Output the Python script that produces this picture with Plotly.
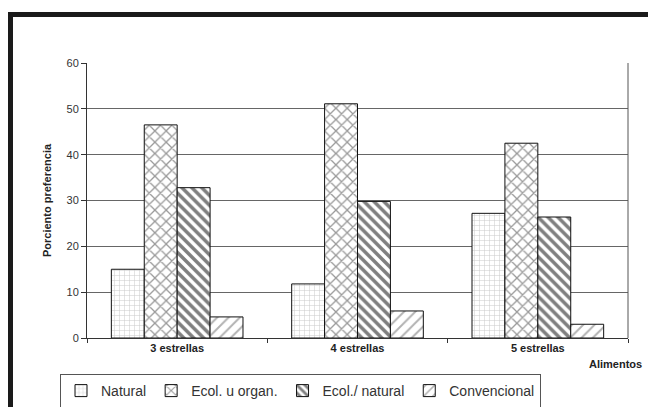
import plotly.graph_objects as go

categories = ["3 estrellas", "4 estrellas", "5 estrellas"]
series_names = ["Natural", "Ecol. u organ.", "Ecol./ natural", "Convencional"]
natural = [15.0, 11.8, 27.2]
ecol_organ = [46.5, 51.1, 42.5]
ecol_natural = [32.8, 29.8, 26.4]
convencional = [4.6, 5.9, 3.0]
y_ticks = [0, 10, 20, 30, 40, 50, 60]

values = [natural, ecol_organ, ecol_natural, convencional]
patterns = [
    dict(shape="+", fgcolor="#999999", bgcolor="white", size=5, solidity=0.2),
    dict(shape="x", fgcolor="#333333", bgcolor="white", size=8, solidity=0.3),
    dict(shape="\\", fgcolor="#000000", bgcolor="white", size=7, solidity=0.5),
    dict(shape="/", fgcolor="#666666", bgcolor="white", size=8, solidity=0.25),
]

fig = go.Figure()
for name, vals, pat in zip(series_names, values, patterns):
    fig.add_trace(go.Bar(
        x=categories, y=vals, name=name,
        marker=dict(color="white", pattern=pat,
                    line=dict(color="#111111", width=1)),
    ))

W, H = 648, 407
L, R, T, B = 87, 20, 63, 69
pw, ph = W - L - R, H - T - B

def px_x(p):
    return (p - L) / pw

def px_y(p):
    return (H - B - p) / ph

narrow = "Liberation Sans Narrow, Arial Narrow, sans-serif"

fig.update_layout(
    width=W, height=H,
    margin=dict(l=L, r=R, t=T, b=B, autoexpand=False),
    paper_bgcolor="white", plot_bgcolor="white",
    barmode="group", bargap=0.27, bargroupgap=0,
    font=dict(family="Liberation Sans, Arial, sans-serif", color="#222222"),
    showlegend=True,
    legend=dict(
        orientation="h", xref="container", yref="container",
        x=60 / W, y=1 - 374 / H, xanchor="left", yanchor="top",
        bordercolor="#555555", borderwidth=1, bgcolor="white",
        font=dict(size=14, color="#333333"),
        itemwidth=30, traceorder="normal",
    ),
    xaxis=dict(
        type="category", showline=True, linecolor="#333333", linewidth=1,
        ticks="outside", tickson="boundaries", ticklen=4,
        tickcolor="#333333", showgrid=False, automargin=False,
        tickfont=dict(family=narrow, size=11, color="#222222", weight="bold"),
        range=[-0.5, 2.5],
    ),
    yaxis=dict(
        range=[0, 60], tickvals=y_ticks, showline=True, linecolor="#333333",
        linewidth=1, ticks="outside", ticklen=5, tickcolor="#333333",
        showgrid=True, gridcolor="#666666", gridwidth=1, automargin=False,
        tickfont=dict(family=narrow, size=11, color="#333333"),
        title=dict(text="Porciento preferencia", standoff=12,
                   font=dict(family=narrow, size=11, color="#222222", weight="bold")),
        zeroline=False,
    ),
    shapes=[
        dict(type="line", xref="paper", yref="paper", x0=1, x1=1, y0=0, y1=1,
             line=dict(color="#555555", width=1)),
        dict(type="rect", xref="paper", yref="paper",
             x0=px_x(10.5), x1=px_x(670), y0=px_y(14.5), y1=px_y(430),
             line=dict(color="#1a1a1a", width=5), fillcolor="rgba(0,0,0,0)"),
    ],
    annotations=[
        dict(text="Alimentos", xref="paper", yref="paper",
             x=px_x(644), y=px_y(364), xanchor="right", yanchor="middle",
             showarrow=False,
             font=dict(family=narrow, size=11, color="#222222", weight="bold")),
    ],
)

fig.write_html(
    "out.html",
    config={"displayModeBar": False},
    post_script="document.body.style.margin='0';document.body.style.overflow='hidden';",
)
